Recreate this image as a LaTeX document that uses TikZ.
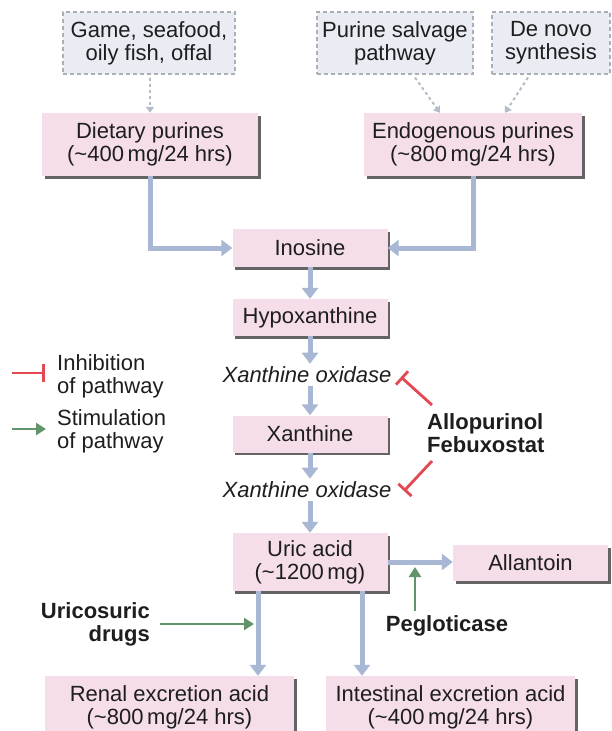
\documentclass[tikz,border=0pt]{standalone}
\usepackage{fontspec}
\setmainfont{Liberation Sans}
\usetikzlibrary{arrows.meta,shadows}
\definecolor{pinkfill}{RGB}{245,222,234}
\definecolor{shadowgray}{RGB}{100,100,100}
\definecolor{srcfill}{RGB}{233,237,243}
\definecolor{srcdraw}{RGB}{170,175,182}
\definecolor{flowblue}{RGB}{168,184,212}
\definecolor{inhred}{RGB}{228,72,82}
\definecolor{stimgreen}{RGB}{98,148,108}
\definecolor{dashblue}{RGB}{178,188,203}
\definecolor{ink}{RGB}{30,30,30}
\begin{document}
\begin{tikzpicture}[x=1pt,y=-1pt,
  every node/.style={font=\fontsize{22}{23}\selectfont, inner sep=0pt, text=ink},
  pbox/.style={fill=pinkfill, align=center, general shadow={fill=shadowgray, shadow xshift=2.5pt, shadow yshift=-2.5pt}},
  sbox/.style={fill=srcfill, draw=srcdraw, dash pattern=on 4pt off 3pt, line width=1.1pt, align=center},
  flow/.style={draw=flowblue, line width=5pt, -{Triangle[width=16pt,length=11pt]}},
  feed/.style={draw=dashblue, line width=2pt, dash pattern=on 3pt off 3pt, -{Triangle[width=8pt,length=6pt]}},
  inh/.style={draw=inhred, line width=2.8pt, -{Bar[width=18pt]}},
  stim/.style={draw=stimgreen, line width=2.8pt, -{Triangle[width=12pt,length=10pt]}},
  lbl/.style={align=left},
  drug/.style={font=\fontsize{22}{23}\selectfont\bfseries},
]
\fill[white] (0,0) rectangle (611,731);
\useasboundingbox (0,0) rectangle (611,731);
\clip (0,0) rectangle (611,731);

% source boxes
\node[sbox, minimum width=172pt, minimum height=62pt] (game) at (149,43) {Game, seafood,\\oily fish, offal};
\node[sbox, minimum width=156pt, minimum height=62pt] (salv) at (395,43) {Purine salvage\\pathway};
\node[sbox, minimum width=118pt, minimum height=62pt] (novo) at (551,43) {De novo\\synthesis};

% pathway boxes
\node[pbox, minimum width=216pt, minimum height=63pt] (diet) at (150,144.5) {Dietary purines\\(\textasciitilde400\,mg/24 hrs)};
\node[pbox, minimum width=218pt, minimum height=63pt] (endo) at (473,144.5) {Endogenous purines\\(\textasciitilde800\,mg/24 hrs)};
\node[pbox, minimum width=155pt, minimum height=38pt] (ino) at (310,248) {Inosine};
\node[pbox, minimum width=155pt, minimum height=37pt] (hypo) at (310,317.5) {Hypoxanthine};
\node[inner sep=3pt] (xo1) at (307,375) {\itshape Xanthine oxidase};
\node[pbox, minimum width=155pt, minimum height=37pt] (xan) at (310,434) {Xanthine};
\node[inner sep=3pt] (xo2) at (307,490) {\itshape Xanthine oxidase};
\node[pbox, minimum width=155pt, minimum height=58pt] (uric) at (310,562) {Uric acid\\(\textasciitilde1200\,mg)};
\node[pbox, minimum width=155pt, minimum height=36pt] (allan) at (530.5,563) {Allantoin};
\node[pbox, minimum width=249pt, minimum height=62pt] (renal) at (169.5,707) {Renal excretion acid\\(\textasciitilde800\,mg/24 hrs)};
\node[pbox, minimum width=249pt, minimum height=62pt] (intes) at (450.5,707) {Intestinal excretion acid\\(\textasciitilde400\,mg/24 hrs)};

% legend
\node[lbl, anchor=west] (inhtxt) at (57,376) {Inhibition\\of pathway};
\node[lbl, anchor=west] (stimtxt) at (57,431) {Stimulation\\of pathway};
\coordinate (inhA) at (12,373);
\coordinate (inhB) at (45,373);
\coordinate (stA) at (12,429);
\coordinate (stB) at (46,429);
\draw[inh] (inhA) -- (inhB);
\draw[stim] (stA) -- (stB);

% drugs
\node[drug, align=left, anchor=west] (allo) at (427,433) {Allopurinol\\Febuxostat};
\node[drug, align=right, anchor=east] (uricos) at (150,624) {Uricosuric\\drugs};
\node[drug] (peg) at (447,626) {Pegloticase};

% feeding dashed arrows
\draw[feed] ([yshift=-3pt]diet.north |- game.south) -- (diet.north);
\draw[feed] ([xshift=20pt,yshift=-3pt]salv.south) -- ([xshift=-33pt]endo.north);
\draw[feed] ([xshift=-23pt,yshift=-3pt]novo.south) -- ([xshift=32pt]endo.north);

% main flow
\draw[flow] (diet.south) |- (ino.west);
\draw[flow] (endo.south) |- (ino.east);
\draw[flow] (ino.south) -- (hypo.north);
\draw[flow] (hypo.south) -- (hypo.south |- xo1.north);
\draw[flow] (hypo.south |- xo1.south) -- (xan.north);
\draw[flow] (xan.south) -- (xan.south |- xo2.north);
\draw[flow] (xan.south |- xo2.south) -- (uric.north);
\draw[flow] (uric.east) -- (uric.east -| allan.west);
\draw[flow] ([xshift=-52pt]uric.south) -- ([xshift=-52pt]uric.south |- renal.north);
\draw[flow] ([xshift=52pt]uric.south) -- ([xshift=52pt]uric.south |- intes.north);

% inhibitions
\coordinate (a1) at (432,405);
\coordinate (t1) at (401,377);
\coordinate (a2) at (432,461);
\coordinate (t2) at (404,491);
\draw[inh] (a1) -- (t1);
\draw[inh] (a2) -- (t2);

% stimulations
\coordinate (ucB) at (254,624);
\draw[stim] ([xshift=10pt]uricos.east) -- (ucB);
\coordinate (pegA) at (415,611);
\coordinate (pegB) at (415,567);
\draw[stim] (pegA) -- (pegB);
\end{tikzpicture}
\end{document}
